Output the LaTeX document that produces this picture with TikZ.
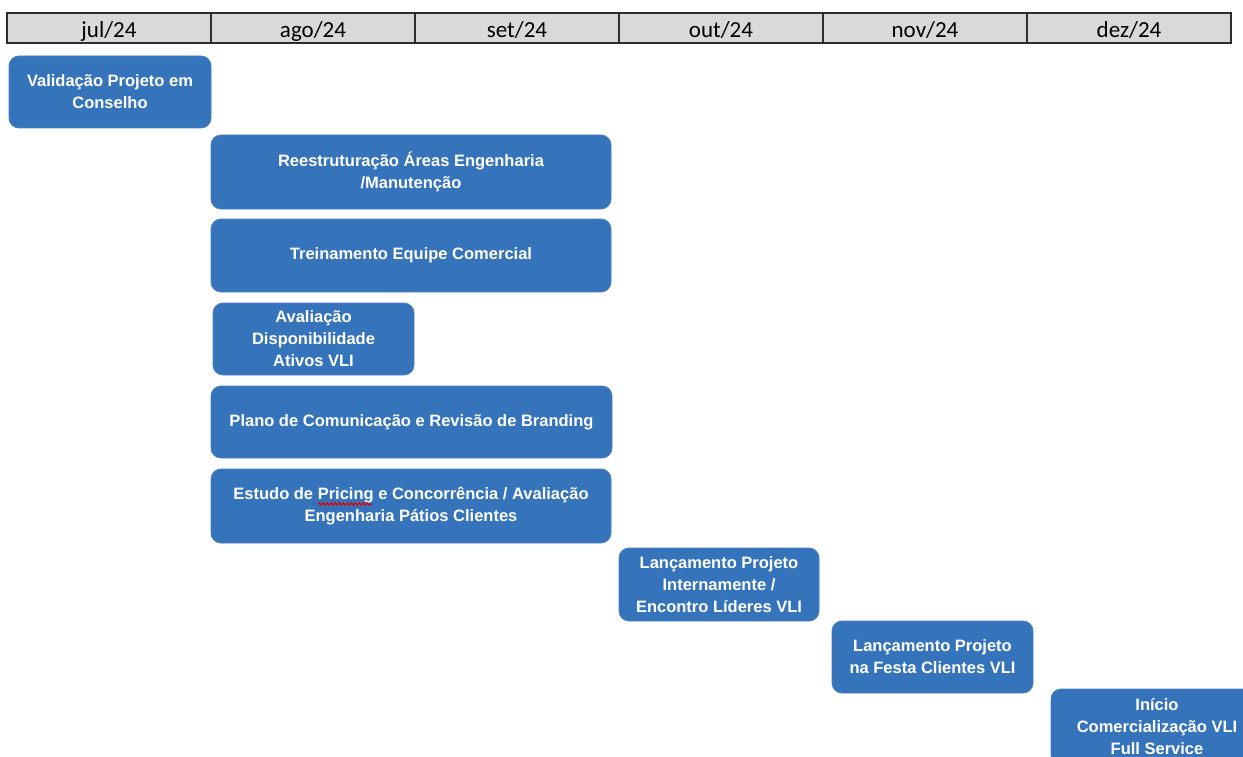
\documentclass[tikz,border=0pt]{standalone}
\usepackage{fontspec}
\setmainfont{Liberation Sans}
\newfontfamily\taskfont{Liberation Sans}
\newfontfamily\hdrfont{Carlito}
\usetikzlibrary{decorations.pathmorphing}
\definecolor{taskblue}{RGB}{53,115,186}
\definecolor{taskedge}{RGB}{70,128,196}
\definecolor{hdrgray}{RGB}{217,217,217}
\definecolor{hdrline}{RGB}{45,45,45}
\tikzset{
  task/.style={rounded corners=10pt, fill=taskblue, draw=taskedge, line width=0.8pt,
    text=white, align=center, inner sep=0pt,
    font=\taskfont\fontsize{16.5}{22}\selectfont\bfseries},
  month/.style={font=\hdrfont\fontsize{23}{24}\selectfont, text=black, inner sep=0pt, anchor=base},
}
\begin{document}
\begin{tikzpicture}[x=1pt,y=-1pt]
\useasboundingbox (0,0) rectangle (1243,757);
% header
\draw[fill=hdrgray, draw=hdrline, line width=1.8pt] (7,13) rectangle (1231,43);
\foreach \xx in {211,415,619,823,1027}{
  \draw[hdrline, line width=1.5pt] (\xx,13) -- (\xx,43);
}
\node[month] (m1) at (109,37.5) {jul/24};
\node[month] (m2) at (313,37.5) {ago/24};
\node[month] (m3) at (517,37.5) {set/24};
\node[month] (m4) at (721,37.5) {out/24};
\node[month] (m5) at (925,37.5) {nov/24};
\node[month] (m6) at (1129,37.5) {dez/24};
% tasks
\node[task, minimum width=202pt, minimum height=72pt] (t1) at (110,92) {Validação Projeto em\\Conselho};
\node[task, minimum width=400pt, minimum height=74pt] (t2) at (411,172) {Reestruturação Áreas Engenharia\\/Manutenção};
\node[task, minimum width=400pt, minimum height=73pt] (t3) at (411,255.5) {Treinamento Equipe Comercial};
\node[task, minimum width=201pt, minimum height=72pt] (t4) at (313.5,339) {Avaliação\\Disponibilidade\\Ativos VLI};
\node[task, minimum width=401pt, minimum height=72pt] (t5) at (411.5,422) {Plano de Comunicação e Revisão de Branding};
\node[task, minimum width=400pt, minimum height=74pt] (t6) at (411,506) {Estudo de Pricing e Concorrência / Avaliação\\Engenharia Pátios Clientes};
\node[task, minimum width=200pt, minimum height=73pt] (t7) at (719,584.5) {Lançamento Projeto\\Internamente /\\Encontro Líderes VLI};
\node[task, minimum width=201pt, minimum height=72pt] (t8) at (932.5,657) {Lançamento Projeto\\na Festa Clientes VLI};
\begin{scope}
\clip (0,0) rectangle (1243,757);
\node[task, minimum width=212pt, minimum height=76pt] (t9) at (1157,727) {Início\\Comercialização VLI\\Full Service};
\end{scope}
% spell-check squiggle
\draw[red!90!black, line width=1.1pt, decorate, decoration={snake, amplitude=1.2pt, segment length=4pt}] (318,504) -- (372,504);
\end{tikzpicture}
\end{document}
